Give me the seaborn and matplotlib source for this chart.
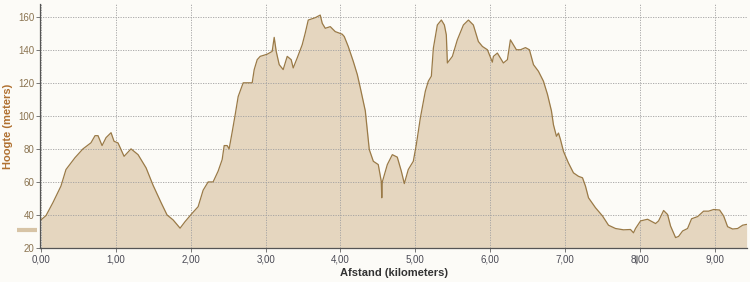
import matplotlib
matplotlib.use("Agg")
import matplotlib.pyplot as plt
import matplotlib.transforms as mtransforms
from matplotlib.ticker import FuncFormatter, MultipleLocator
import seaborn as sns
import pandas as pd

distance_km = [
    0.000, 0.067, 0.160, 0.267, 0.334, 0.455, 0.561, 0.668, 0.722, 0.762,
    0.816, 0.869, 0.936, 0.976, 1.029, 1.110, 1.203, 1.297, 1.404, 1.497,
    1.604, 1.684, 1.765, 1.858, 1.925, 2.019, 2.099, 2.166, 2.233, 2.299,
    2.366, 2.420, 2.447, 2.487, 2.513, 2.553, 2.594, 2.634, 2.701, 2.821,
    2.848, 2.888, 2.928, 3.021, 3.088, 3.115, 3.142, 3.182, 3.235, 3.289,
    3.342, 3.369, 3.422, 3.489, 3.529, 3.570, 3.663, 3.730, 3.757, 3.797,
    3.864, 3.930, 4.024, 4.051, 4.104, 4.171, 4.225, 4.265, 4.332, 4.385,
    4.439, 4.505, 4.545, 4.552, 4.559, 4.626, 4.693, 4.759, 4.813, 4.853,
    4.906, 4.973, 5.013, 5.067, 5.134, 5.174, 5.214, 5.241, 5.294, 5.348,
    5.388, 5.414, 5.428, 5.495, 5.561, 5.642, 5.709, 5.775, 5.842, 5.896,
    5.963, 6.029, 6.043, 6.096, 6.176, 6.230, 6.270, 6.310, 6.350, 6.404,
    6.471, 6.524, 6.578, 6.644, 6.711, 6.765, 6.818, 6.845, 6.885, 6.912,
    6.939, 6.979, 7.045, 7.112, 7.179, 7.233, 7.273, 7.313, 7.406, 7.500,
    7.580, 7.674, 7.781, 7.874, 7.914, 7.941, 8.008, 8.102, 8.209, 8.249,
    8.316, 8.369, 8.409, 8.476, 8.516, 8.570, 8.636, 8.690, 8.770, 8.850,
    8.917, 8.984, 9.064, 9.118, 9.171, 9.238, 9.305, 9.372, 9.425,
]
elevation_m = [
    37.0, 39.6, 47.5, 57.5, 67.5, 74.7, 80.0, 83.7, 88.0, 88.0,
    82.0, 86.8, 89.8, 84.6, 83.6, 75.5, 80.0, 76.5, 68.5, 58.0,
    47.5, 40.0, 37.0, 32.0, 36.0, 41.0, 45.0, 55.0, 60.0, 60.0,
    66.5, 73.5, 82.0, 82.0, 80.0, 90.0, 100.7, 111.7, 120.0, 120.0,
    128.0, 134.0, 136.0, 137.3, 139.0, 147.5, 139.0, 131.0, 128.0, 136.0,
    134.0, 129.0, 135.0, 143.0, 150.0, 158.0, 159.4, 161.0, 156.0, 153.0,
    154.0, 151.0, 149.4, 148.0, 142.0, 133.0, 125.0, 117.0, 103.0, 79.6,
    72.5, 70.5, 60.4, 50.4, 60.0, 70.5, 76.5, 75.0, 66.5, 59.0,
    67.5, 72.5, 82.5, 98.7, 115.0, 121.0, 124.0, 141.0, 155.0, 158.0,
    155.0, 149.0, 132.0, 136.0, 146.0, 155.0, 158.0, 155.0, 145.0, 142.0,
    140.0, 132.5, 136.0, 138.0, 132.0, 134.0, 146.0, 143.0, 140.0, 140.0,
    141.3, 140.0, 131.0, 127.0, 121.0, 113.0, 103.0, 94.6, 87.6, 89.6,
    85.6, 78.5, 71.5, 65.5, 63.4, 62.5, 57.4, 50.4, 44.4, 39.4,
    33.8, 31.8, 31.0, 31.2, 29.2, 31.8, 36.4, 37.4, 34.8, 36.4,
    42.7, 40.3, 33.3, 26.3, 27.0, 30.3, 31.8, 37.7, 39.0, 42.3,
    42.3, 43.3, 43.0, 39.4, 32.9, 31.5, 31.8, 33.8, 34.3,
]

y_ticks = [20, 40, 60, 80, 100, 120, 140, 160]
x_ticks = [0, 1, 2, 3, 4, 5, 6, 7, 8, 9]
x_label = "Afstand (kilometers)"
y_label = "Hoogte (meters)"
marker_elev = 31      # tan marker on the left of the y axis
marker_dist = 7.95    # grey marker under the x axis

df = pd.DataFrame({"km": distance_km, "m": elevation_m})

sns.set_theme(style="white")
plt.rcParams["font.family"] = ["Liberation Sans", "DejaVu Sans"]

bg = "#fcfbf7"
fill_col = "#e5d6bf"
line_col = "#9a7a47"

fig = plt.figure(figsize=(7.5, 2.82), dpi=100, facecolor=bg)
ax = fig.add_axes([40 / 750, 1 - 248 / 282, 707 / 750, 244 / 282])
ax.set_facecolor(bg)

ax.fill_between(df["km"], df["m"], 0, color=fill_col, linewidth=0, zorder=1)
sns.lineplot(data=df, x="km", y="m", ax=ax, color=line_col, linewidth=0.9,
             sort=False, zorder=3)

ax.set_xlim(-0.013, 9.43)
ax.set_ylim(20, 167.7)
ax.set_xticks(x_ticks)
ax.set_yticks(y_ticks)
ax.xaxis.set_major_formatter(FuncFormatter(lambda v, p: f"{v:.2f}".replace(".", ",")))
ax.yaxis.set_major_formatter(FuncFormatter(lambda v, p: f"{int(v)}"))

ax.grid(True, color="#a0a0a0", linestyle=(0, (1.5, 1.5)), linewidth=0.6, zorder=2)
ax.set_axisbelow(False)
for gl in ax.get_xgridlines() + ax.get_ygridlines():
    gl.set_zorder(2)

for s in ["top", "right"]:
    ax.spines[s].set_visible(False)
for s in ["left", "bottom"]:
    ax.spines[s].set_color("#555555")
    ax.spines[s].set_linewidth(0.9)
    ax.spines[s].set_zorder(4)

ax.tick_params(axis="y", which="major", length=3, width=0.7, color="#777777",
               labelsize=7, labelcolor="#8a7350", pad=1, left=True)
ax.tick_params(axis="x", which="major", length=3, width=0.7, color="#777777",
               labelsize=7, labelcolor="#4a4a55", pad=2, bottom=True)

ax.set_xlabel(x_label, fontsize=8, fontweight="bold", color="#333333", labelpad=2)
ax.set_ylabel(y_label, fontsize=8, fontweight="bold", color="#b07030", labelpad=4)

# tan marker on the left of the y axis
trans_y = mtransforms.blended_transform_factory(ax.transAxes, ax.transData)
ax.plot([-0.033, -0.004], [marker_elev, marker_elev], transform=trans_y,
        color="#d7c4a6", linewidth=3, clip_on=False, solid_capstyle="butt")
# grey marker under the x axis
trans_x = mtransforms.blended_transform_factory(ax.transData, ax.transAxes)
ax.plot([marker_dist, marker_dist], [-0.03, -0.06], transform=trans_x,
        color="#999999", linewidth=2, clip_on=False, solid_capstyle="butt")

fig.savefig("out.png", dpi=100, facecolor=bg)
